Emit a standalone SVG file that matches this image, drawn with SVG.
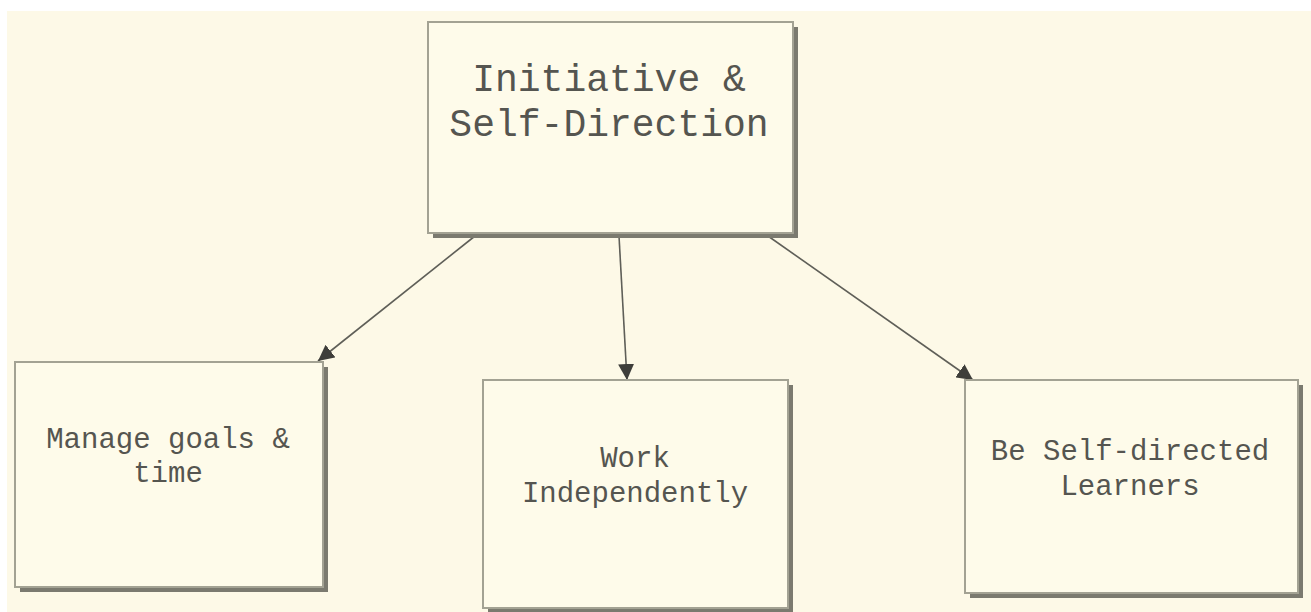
<svg xmlns="http://www.w3.org/2000/svg" width="1311" height="612" viewBox="0 0 1311 612">
<style>
.box{fill:#fefbea;stroke:#a3a293;stroke-width:2}
.shadow{fill:#7b7a6f}
.t{font-family:"Liberation Mono","Courier New",monospace;fill:#555550;text-anchor:middle}
.edge{stroke:#5f5f58;stroke-width:1.6;fill:none;marker-end:url(#arr)}
</style>
<defs>
<marker id="arr" viewBox="0 0 10 10" refX="10" refY="5" markerWidth="16" markerHeight="16" markerUnits="userSpaceOnUse" orient="auto">
<path d="M0,0 L10,5 L0,10 z" fill="#3e3e3a"/>
</marker>
</defs>
<rect x="0" y="0" width="1311" height="612" fill="#ffffff"/>
<rect x="7" y="11" width="1304" height="601" fill="#fdf9e7"/>
<g id="edges">
<line class="edge" x1="475" y1="236" x2="318" y2="361"/>
<line class="edge" x1="619" y1="236" x2="627" y2="380"/>
<line class="edge" x1="768" y1="236" x2="973" y2="380"/>
</g>
<g id="n-top">
<rect class="shadow" x="433" y="27" width="365" height="211"/>
<rect class="box" x="428" y="22" width="365" height="211"/>
<text class="t" x="609" y="91" font-size="38">Initiative &amp;</text>
<text class="t" x="609" y="136" font-size="38">Self-Direction</text>
</g>
<g id="n-manage">
<rect class="shadow" x="20" y="367" width="308" height="225"/>
<rect class="box" x="15" y="362" width="308" height="225"/>
<text class="t" x="168" y="448" font-size="29">Manage goals &amp;</text>
<text class="t" x="168" y="482" font-size="29">time</text>
</g>
<g id="n-work">
<rect class="shadow" x="488" y="385" width="305" height="228"/>
<rect class="box" x="483" y="380" width="305" height="228"/>
<text class="t" x="635" y="467" font-size="29">Work</text>
<text class="t" x="635" y="502" font-size="29">Independently</text>
</g>
<g id="n-learn">
<rect class="shadow" x="970" y="385" width="333" height="213"/>
<rect class="box" x="965" y="380" width="333" height="213"/>
<text class="t" x="1130" y="460" font-size="29">Be Self-directed</text>
<text class="t" x="1130" y="495" font-size="29">Learners</text>
</g>
</svg>
